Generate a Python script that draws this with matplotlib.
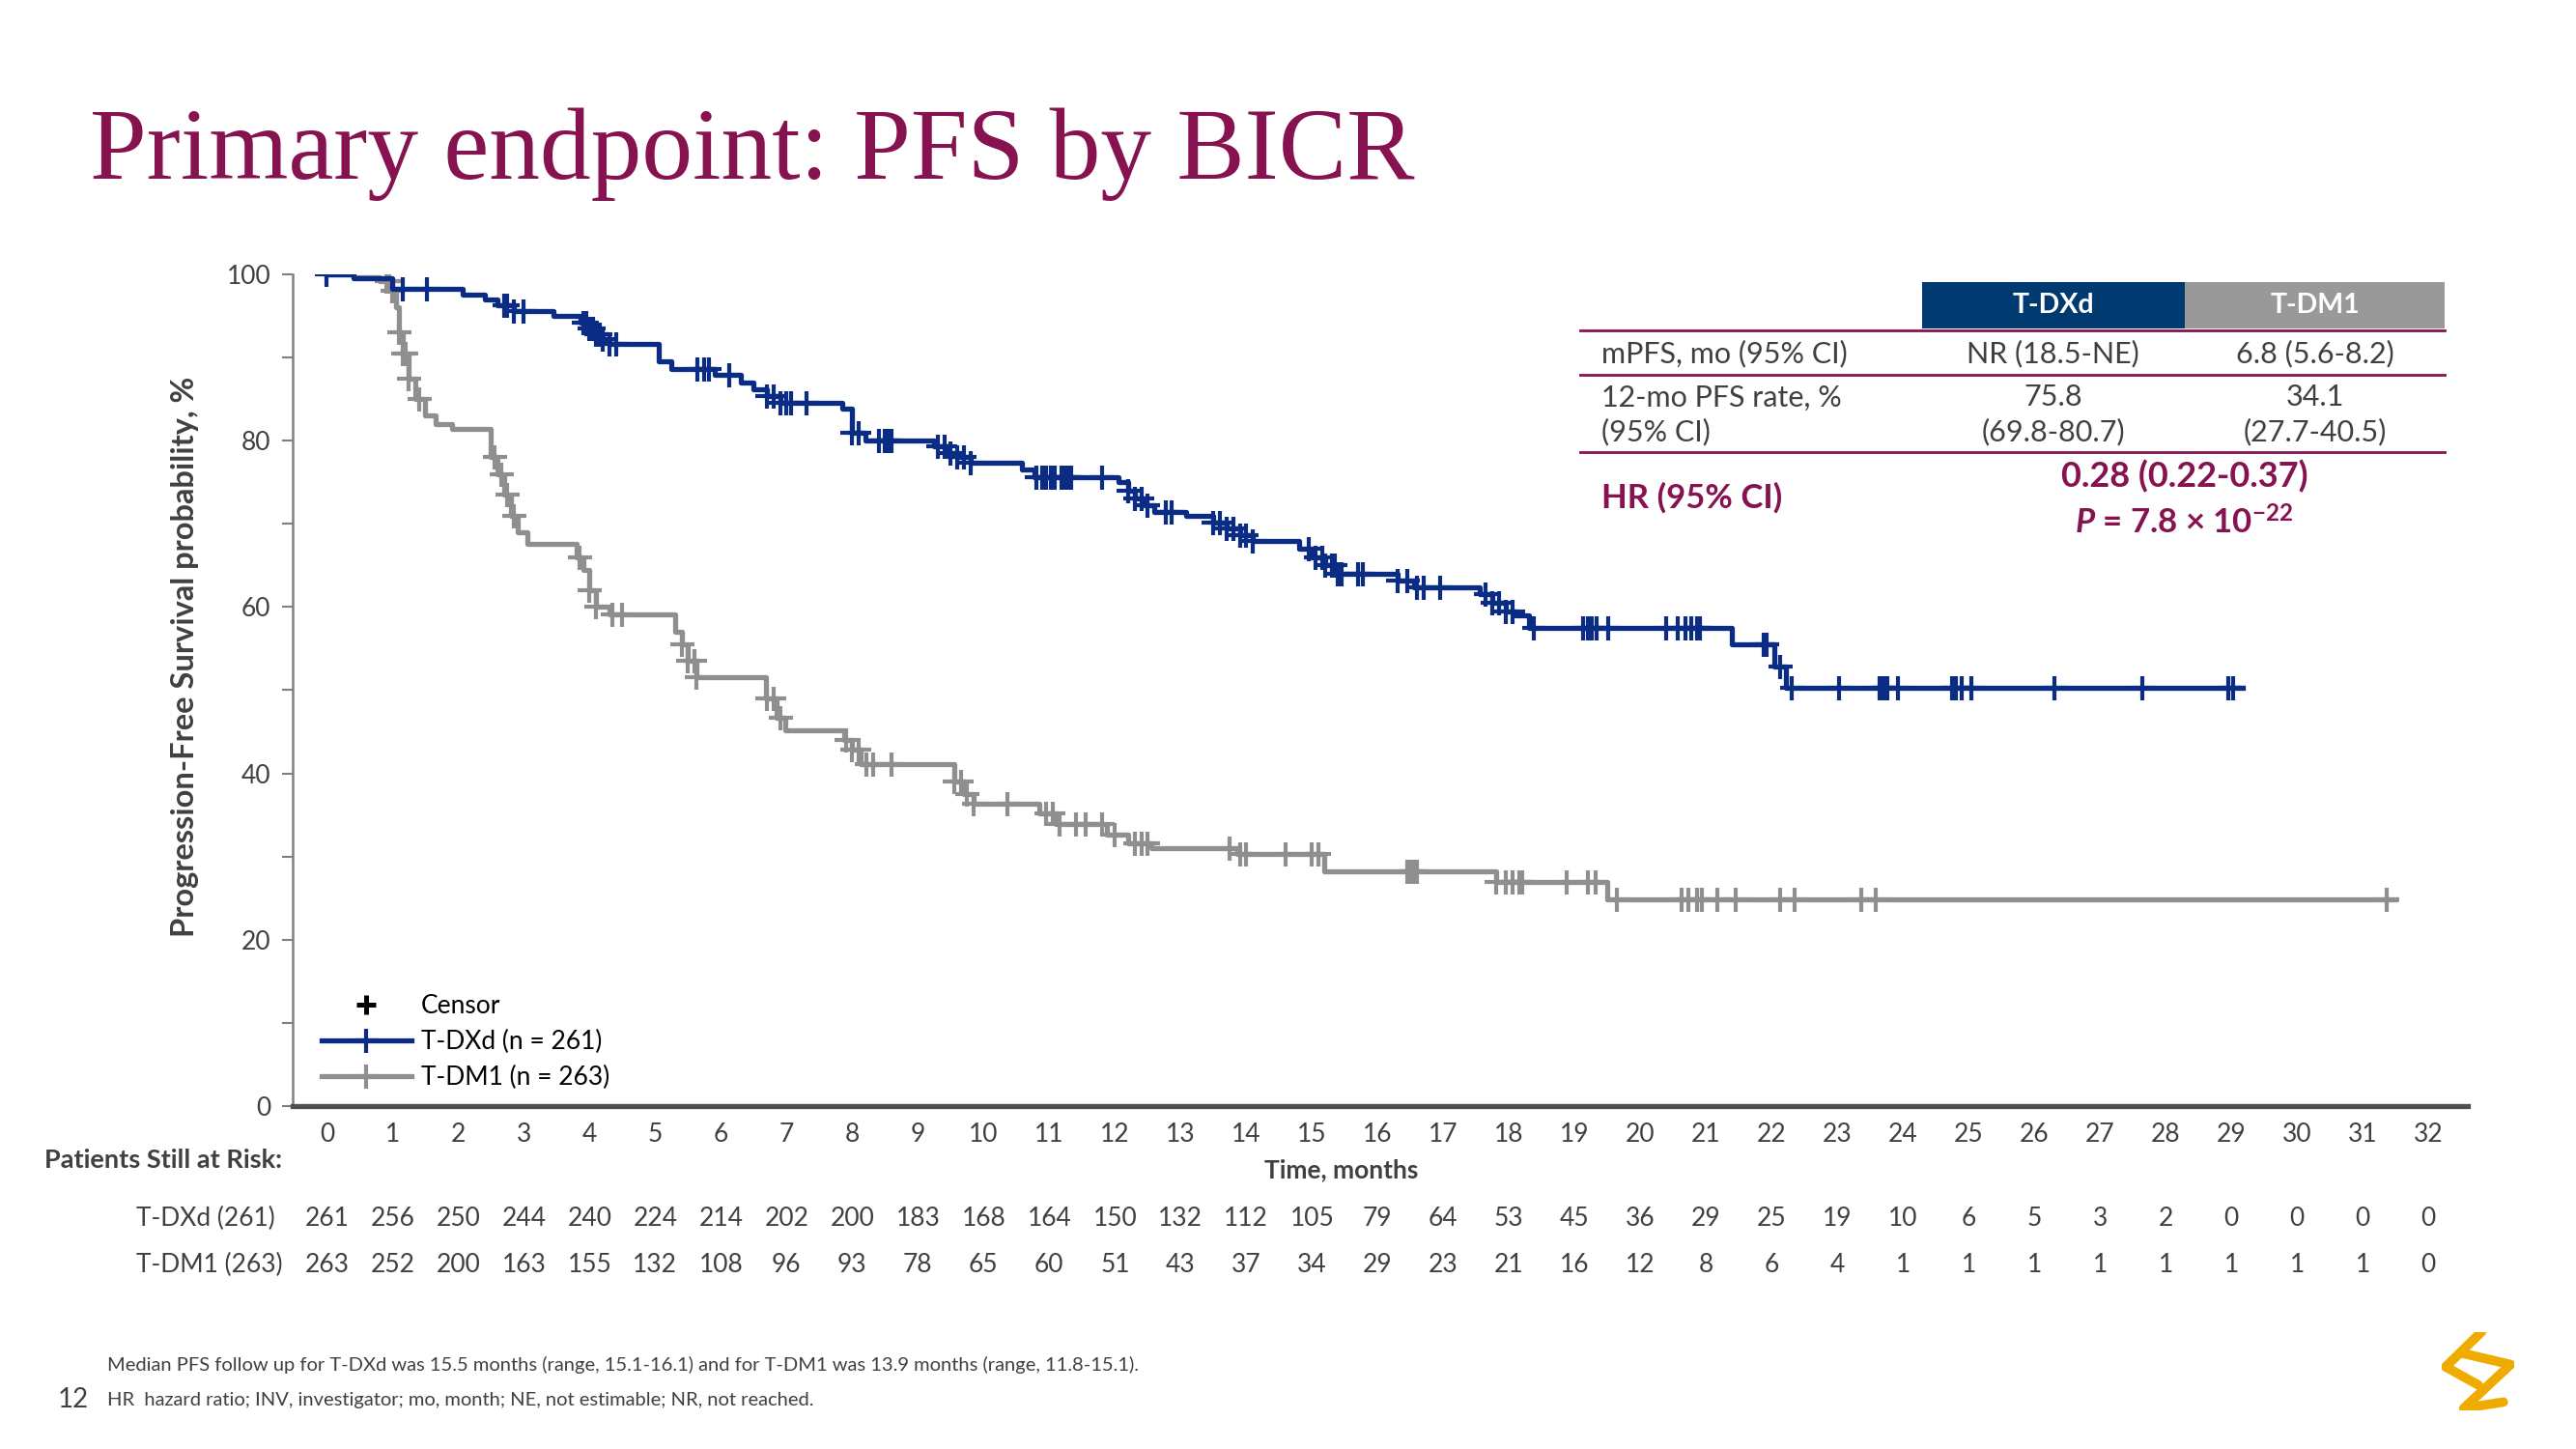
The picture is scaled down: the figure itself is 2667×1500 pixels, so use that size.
import matplotlib
matplotlib.use("Agg")
import matplotlib.pyplot as plt
from matplotlib.lines import Line2D
from matplotlib.patches import Rectangle
import matplotlib.transforms as mtransforms
import numpy as np

plt.rcParams['font.family'] = ['Lato', 'DejaVu Sans']
plt.rcParams['mathtext.fontset'] = 'custom'
plt.rcParams['mathtext.it'] = 'Lato:italic:bold'
plt.rcParams['mathtext.rm'] = 'Lato:bold'

BLUE = '#0b2c85'
GREY = '#8f8f8f'
MAROON = '#861250'
NAVY = '#003a70'
TEXT = '#404040'
GOLD = '#f0ab00'

# ---- KM steps (months, %)
tdxd_time = [0, 0.4, 1.0, 2.07, 2.4, 2.6, 2.85, 3.45, 3.86, 4.0, 4.1, 4.2, 4.3, 5.06, 5.25, 5.9,
             6.3, 6.5, 6.7, 6.9, 7.85, 8.0, 8.2, 9.25, 9.45, 9.6, 9.8, 10.58, 10.78, 12.05,
             12.2, 12.3, 12.45, 12.6, 13.08, 13.5, 13.7, 13.9, 14.1, 14.8, 15.0, 15.2, 15.4,
             16.3, 16.55, 17.55, 17.75, 17.95, 18.1, 18.3, 21.4, 22.04, 22.21]
tdxd_surv = [100, 99.5, 98.2, 97.6, 97.0, 96.3, 95.6, 95.0, 94.2, 93.5, 92.8, 92.2, 91.6, 89.5, 88.6, 87.9,
             87.0, 86.2, 85.4, 84.6, 83.8, 81.0, 80.0, 79.3, 78.5, 78.0, 77.4, 76.5, 75.6, 75.0,
             74.0, 73.0, 72.2, 71.4, 71.0, 70.2, 69.4, 68.6, 67.9, 67.0, 66.0, 65.0, 64.0,
             63.2, 62.4, 61.5, 60.5, 59.5, 59.0, 57.5, 55.5, 52.8, 50.3]
tdxd_end = 29.17
tdxd_censor = [0.0, 1.15, 1.52, 2.7, 2.75, 2.85, 3.0, 3.9, 3.95, 4.0, 4.05, 4.1, 4.15, 4.2, 4.3, 4.4,
               5.64, 5.75, 5.82, 6.12, 6.7, 6.8, 6.9, 7.0, 7.07, 7.3, 8.0, 8.1, 8.4, 8.5, 8.55, 8.6,
               9.3, 9.4, 9.5, 9.6, 9.7, 9.8, 10.8, 10.89, 10.95, 11.02, 11.08, 11.18, 11.25, 11.28,
               11.34, 11.8, 12.2, 12.3, 12.4, 12.5, 12.77, 12.87, 13.5, 13.6, 13.7, 13.8, 13.9, 14.0,
               14.1, 14.95, 15.05, 15.15, 15.2, 15.3, 15.35, 15.4, 15.45, 15.7, 15.77, 16.3, 16.45,
               16.6, 16.7, 16.95, 17.65, 17.75, 17.85, 17.95, 18.05, 18.38, 19.13, 19.2, 19.26,
               19.34, 19.51, 20.39, 20.57, 20.69, 20.78, 20.86, 20.91, 21.88, 21.93, 22.13, 22.3,
               23.02, 23.64, 23.7, 23.76, 23.93, 24.74, 24.8, 24.9, 25.04, 26.3, 27.65, 28.96, 29.02]

tdm1_time = [0, 0.4, 0.8, 1.0, 1.05, 1.1, 1.15, 1.25, 1.35, 1.5, 1.65, 1.9, 2.5, 2.6, 2.7, 2.8,
             2.9, 3.05, 3.8, 3.9, 4.0, 4.1, 4.3, 5.3, 5.4, 5.5, 5.62, 6.68, 6.85, 6.98, 7.87, 8.0,
             8.12, 9.56, 9.7, 9.85, 10.85, 11.1, 11.88, 12.2, 12.56, 13.87, 15.19, 17.8, 19.5]
tdm1_surv = [100, 99.6, 99.2, 98.0, 96.0, 93.0, 90.5, 87.5, 85.0, 83.0, 82.0, 81.4, 78.0, 76.0, 73.5, 71.0,
             69.0, 67.6, 66.0, 64.5, 62.0, 60.0, 59.1, 57.0, 55.5, 53.5, 51.6, 49.0, 46.7, 45.2, 44.0, 42.8,
             41.1, 39.0, 37.5, 36.4, 35.2, 33.9, 32.6, 31.6, 31.0, 30.3, 28.2, 26.9, 24.9]
tdm1_end = 31.5
tdm1_censor = [0.9, 0.95, 1.0, 1.1, 1.15, 1.2, 1.25, 1.4, 2.55, 2.65, 2.75, 2.85, 3.85, 4.0, 4.1, 4.35,
               4.5, 5.4, 5.5, 5.6, 5.62, 6.7, 6.8, 6.9, 7.9, 8.0, 8.1, 8.22, 8.32, 8.6, 9.56, 9.65,
               9.75, 9.85, 10.36, 10.95, 11.05, 11.15, 11.4, 11.55, 11.8, 12.0, 12.3, 12.4, 12.5,
               13.74, 13.9, 14.0, 14.6, 15.0, 15.1, 16.45, 16.5, 16.55, 16.6, 17.8, 17.95, 18.06,
               18.16, 18.2, 18.88, 19.2, 19.32, 19.64, 20.63, 20.73, 20.86, 20.94, 21.17, 21.45,
               22.13, 22.35, 23.36, 23.58, 31.36]

months = list(range(0, 33))
risk_tdxd = [261, 256, 250, 244, 240, 224, 214, 202, 200, 183, 168, 164, 150, 132, 112, 105, 79,
             64, 53, 45, 36, 29, 25, 19, 10, 6, 5, 3, 2, 0, 0, 0, 0]
risk_tdm1 = [263, 252, 200, 163, 155, 132, 108, 96, 93, 78, 65, 60, 51, 43, 37, 34, 29, 23, 21,
             16, 12, 8, 6, 4, 1, 1, 1, 1, 1, 1, 1, 1, 0]

table_rows = ["mPFS, mo (95% CI)", "12-mo PFS rate, %\n(95% CI)"]
table_tdxd = ["NR (18.5-NE)", "75.8\n(69.8-80.7)"]
table_tdm1 = ["6.8 (5.6-8.2)", "34.1\n(27.7-40.5)"]


def step_value(times, surv, t):
    i = np.searchsorted(times, t, side='right') - 1
    return np.array(surv)[i]


fig = plt.figure(figsize=(26.67, 15), dpi=100)
ax = fig.add_axes([0.1135, 0.2367, 0.8445, 0.574])

for times, surv, end, cens, col in [(tdxd_time, tdxd_surv, tdxd_end, tdxd_censor, BLUE),
                                     (tdm1_time, tdm1_surv, tdm1_end, tdm1_censor, GREY)]:
    xs = list(times) + [end]
    ys = list(surv) + [surv[-1]]
    z = 3 if col == BLUE else 2
    ax.step(xs, ys, where='post', color=col, lw=3.8, zorder=z)
    cy = step_value(times, surv, np.array(cens))
    ax.plot(cens, cy, ls='none', marker='+', ms=18, mew=3.0, color=col, zorder=z)

ax.set_xlim(-0.525, 32.6)
ax.set_ylim(0, 100)
ax.set_xticks(months)
ax.set_xticklabels([str(m) for m in months])
ax.set_yticks([0, 20, 40, 60, 80, 100])
ax.set_yticks([10, 30, 50, 70, 90], minor=True)
ax.tick_params(axis='x', length=0, pad=12, labelsize=19, labelcolor=TEXT)
ax.tick_params(axis='y', which='both', length=8, width=1.5, color='#7f7f7f',
               pad=8, labelsize=19, labelcolor=TEXT)
for s in ['top', 'right']:
    ax.spines[s].set_visible(False)
ax.spines['left'].set_color('#7f7f7f')
ax.spines['left'].set_linewidth(1.8)
ax.spines['bottom'].set_color('#505050')
ax.spines['bottom'].set_linewidth(3.8)

ax.set_ylabel("Progression-Free Survival probability, %", fontsize=23.5, fontweight='bold',
              color=TEXT)
ax.yaxis.set_label_coords(-0.043, 0.54)

handles = [Line2D([], [], ls='none', marker='+', ms=15, mew=3.6, color='black'),
           Line2D([], [], color=BLUE, lw=3.8, marker='+', ms=18, mew=3.0),
           Line2D([], [], color=GREY, lw=3.8, marker='+', ms=18, mew=3.0)]
ax.legend(handles, ["Censor", "T-DXd (n = 261)", "T-DM1 (n = 263)"], loc='lower left',
          bbox_to_anchor=(0.003, -0.008), frameon=False, fontsize=19, handlelength=3.5,
          handletextpad=0.4, labelspacing=0.45, numpoints=1)

# title
fig.text(0.035, 0.877, "Primary endpoint: PFS by BICR", family='Liberation Serif',
         fontsize=76, color=MAROON, va='baseline', ha='left')

# x label and risk table
bt = mtransforms.blended_transform_factory(ax.transData, fig.transFigure)
ax.text(15.45, 0.1927, "Time, months", transform=bt, ha='center', va='center',
        fontsize=19, fontweight='bold', color=TEXT)
fig.text(0.0172, 0.1995, "Patients Still at Risk:", ha='left', va='center', fontsize=19.5,
         fontweight='bold', color=TEXT)
fig.text(0.053, 0.1587, "T-DXd (261)", ha='left', va='center', fontsize=19, color=TEXT)
fig.text(0.053, 0.127, "T-DM1 (263)", ha='left', va='center', fontsize=19, color=TEXT)
for m, a, b in zip(months, risk_tdxd, risk_tdm1):
    ax.text(m, 0.1587, str(a), transform=bt, ha='center', va='center', fontsize=19, color=TEXT)
    ax.text(m, 0.127, str(b), transform=bt, ha='center', va='center', fontsize=19, color=TEXT)

# summary table
x0, x1, x2, x3 = 0.6135, 0.7462, 0.8482, 0.949
fig.patches.append(Rectangle((x1, 0.7732), x2 - x1, 0.032, transform=fig.transFigure,
                             facecolor=NAVY, edgecolor='none'))
fig.patches.append(Rectangle((x2, 0.7732), x3 - x2, 0.032, transform=fig.transFigure,
                             facecolor='#999999', edgecolor='none'))
fig.text((x1 + x2) / 2, 0.789, "T-DXd", ha='center', va='center', fontsize=20.5,
         fontweight='bold', color='white')
fig.text((x2 + x3) / 2, 0.789, "T-DM1", ha='center', va='center', fontsize=20.5,
         fontweight='bold', color='white')
for yl in [0.772, 0.7415, 0.6882]:
    fig.add_artist(Line2D([x0, x3], [yl, yl], transform=fig.transFigure, color=MAROON, lw=2))
row_y = [0.7562, 0.7138]
for y, lab, a, b in zip(row_y, table_rows, table_tdxd, table_tdm1):
    fig.text(0.6218, y, lab, ha='left', va='center', fontsize=22, color=TEXT, linespacing=1.3)
    fig.text(0.797, y, a, ha='center', va='center', fontsize=22, color=TEXT, linespacing=1.3)
    fig.text(0.8986, y, b, ha='center', va='center', fontsize=22, color=TEXT, linespacing=1.3)
fig.text(0.6218, 0.6565, "HR (95% CI)", ha='left', va='center', fontsize=25,
         fontweight='bold', color=MAROON)
fig.text(0.848, 0.671, "0.28 (0.22-0.37)", ha='center', va='center', fontsize=26,
         fontweight='bold', color=MAROON)
fig.text(0.848, 0.6395, r"$P$ = 7.8 $\times$ 10$^{-22}$", ha='center', va='center', fontsize=25,
         fontweight='bold', color=MAROON)

# footnotes
fig.text(0.0415, 0.0578, "Median PFS follow up for T-DXd was 15.5 months (range, 15.1-16.1) and for "
         "T-DM1 was 13.9 months (range, 11.8-15.1).", ha='left', va='center', fontsize=14.5,
         color=TEXT)
fig.text(0.0415, 0.034, "HR  hazard ratio; INV, investigator; mo, month; NE, not estimable; "
         "NR, not reached.", ha='left', va='center', fontsize=14.5, color=TEXT)
fig.text(0.0223, 0.034, "12", ha='left', va='center', fontsize=20, color=TEXT)

# rough logo mark, bottom right
lg = fig.add_axes([0.948, 0.027, 0.028, 0.054])
lg.axis('off')
lg.set_xlim(0, 1)
lg.set_ylim(0, 1)
lg.plot([0.55, 0.05, 0.5], [1.0, 0.55, 0.32], color=GOLD, lw=7, solid_capstyle='round',
        solid_joinstyle='round')
lg.plot([0.3, 0.95, 0.3, 0.85], [0.72, 0.58, 0.02, 0.1], color=GOLD, lw=7,
        solid_capstyle='round', solid_joinstyle='round')

fig.savefig("out.png", dpi=100)
